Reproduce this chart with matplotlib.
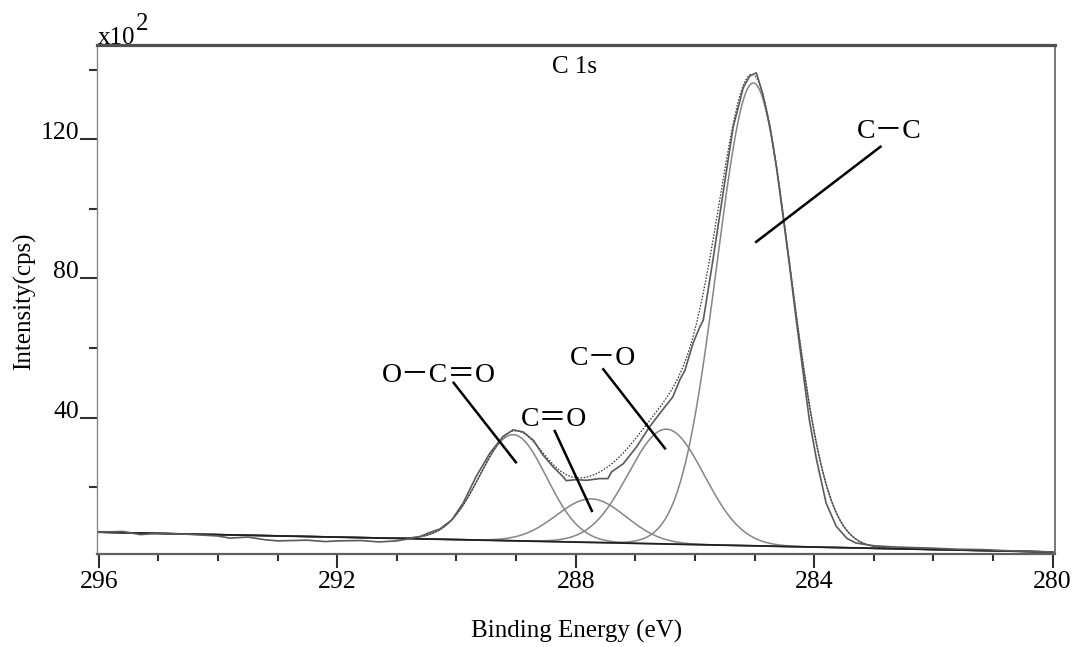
import numpy as np
import matplotlib
matplotlib.use('Agg')
import matplotlib.pyplot as plt
from matplotlib.ticker import MultipleLocator

# ---------------- data ----------------
energy = [296.0, 295.6, 295.3, 295.0, 294.5, 294.0, 293.8, 293.5, 293.2, 293.0,
          292.5, 292.2, 292.0, 291.6, 291.3, 291.0, 290.8, 290.6, 290.45, 290.28,
          290.08, 289.89, 289.67, 289.44, 289.22, 289.05, 288.88, 288.71, 288.55, 288.38,
          288.21, 288.16, 287.99, 287.82, 287.60, 287.46, 287.40, 287.20, 286.98, 286.76,
          286.59, 286.37, 286.25, 286.17, 286.03, 285.92, 285.86, 285.70, 285.53, 285.36,
          285.19, 285.08, 284.97, 284.86, 284.74, 284.63, 284.52, 284.41, 284.30, 284.19,
          284.08, 283.96, 283.80, 283.63, 283.45, 283.30, 283.00, 282.70, 282.40, 282.00,
          281.60, 281.20, 280.80, 280.40, 280.00]
intensity = [7.1, 7.3, 6.4, 6.8, 6.5, 6.0, 5.4, 5.7, 4.9, 4.6,
             4.8, 4.4, 4.6, 4.7, 4.3, 4.6, 5.2, 5.9, 7.0, 8.0,
             10.6, 15.4, 23.1, 29.8, 34.6, 36.5, 35.9, 33.5, 29.3, 25.9,
             23.0, 21.9, 22.2, 22.0, 22.5, 22.5, 24.4, 26.8, 31.6, 37.4,
             41.2, 46.0, 51.0, 53.5, 61.5, 66.0, 68.0, 85.1, 104.3, 123.4,
             134.8, 138.2, 139.1, 132.9, 123.4, 111.9, 97.6, 83.3, 68.0, 53.6,
             39.3, 27.9, 15.5, 8.8, 5.3, 4.0, 3.2, 2.9, 2.7, 2.5,
             2.2, 2.1, 1.8, 1.6, 1.4]

peak_labels = ['C－C', 'C－O', 'C＝O', 'O－C＝O']
peak_centers = [285.02, 286.48, 287.74, 289.05]
peak_heights = [133.0, 33.0, 12.5, 30.5]
peak_fwhm = [1.44, 1.50, 1.38, 1.32]

background_energy = [296.0, 280.0]
background_level = [7.1, 1.4]

x_major_ticks = [296, 292, 288, 284, 280]
y_major_ticks = [40, 80, 120]

# ---------------- figure ----------------
W, H = 1078, 647
fig = plt.figure(figsize=(W / 100, H / 100), dpi=100)
ax = fig.add_axes([97 / W, 1 - 554 / H, (1055 - 97) / W, (554 - 45) / H])

serif = 'Liberation Serif'
ann_family = ['Liberation Serif', 'Noto Sans CJK SC']

x_fine = np.linspace(296, 280, 1601)
bg = np.interp(x_fine, background_energy[::-1], background_level[::-1])

components = []
for c, h, w in zip(peak_centers, peak_heights, peak_fwhm):
    comp = h * np.exp(-4 * np.log(2) * (x_fine - c) ** 2 / w ** 2)
    components.append(comp)
    ax.plot(x_fine, comp + bg, color='#858585', lw=1.1, zorder=2)

envelope = bg + np.sum(components, axis=0)
ax.plot(x_fine, envelope, color='#303030', lw=0.9, ls=(0, (1.2, 1.3)), zorder=3)
ax.plot(energy, intensity, color='#5a5a5a', lw=1.2, zorder=4)
ax.plot(background_energy, background_level, color='#202020', lw=1.3, zorder=3)

ax.set_xlim(296.03, 279.96)
ax.set_ylim(0.83, 147.1)

ax.xaxis.set_major_locator(plt.FixedLocator(x_major_ticks))
ax.xaxis.set_minor_locator(MultipleLocator(1))
ax.yaxis.set_major_locator(plt.FixedLocator(y_major_ticks))
ax.yaxis.set_minor_locator(MultipleLocator(20))
ax.set_xticklabels([str(t) for t in x_major_ticks])
ax.set_yticklabels([str(t) for t in y_major_ticks])

ax.tick_params(axis='x', which='major', direction='out', length=10, width=1.5,
               color='#303030', labelsize=18.5, pad=2)
ax.tick_params(axis='x', which='minor', direction='out', length=5, width=1.5, color='#303030')
ax.tick_params(axis='y', which='major', direction='out', length=12, width=1.5,
               color='#303030', labelsize=18.5, pad=1)
ax.tick_params(axis='y', which='minor', direction='out', length=6, width=1.5, color='#303030')
for lab in ax.get_xticklabels() + ax.get_yticklabels():
    lab.set_family(serif)
for lab in ax.get_yticklabels():
    lab.set_va('baseline')

ax.spines['top'].set_linewidth(2.3)
ax.spines['top'].set_color('#505050')
ax.spines['bottom'].set_linewidth(1.6)
ax.spines['bottom'].set_color('#606060')
ax.spines['left'].set_linewidth(1.0)
ax.spines['left'].set_color('#888888')
ax.spines['right'].set_linewidth(1.2)
ax.spines['right'].set_color('#606060')

# annotation labels and leader lines
label_pos = [(282.74, 120.4), (287.54, 55.1), (288.36, 37.6), (290.29, 50.3)]
leaders = [((282.87, 118.1), (284.99, 90.3)),
           ((287.55, 54.2), (286.49, 30.9)),
           ((288.36, 36.5), (287.72, 12.9)),
           ((290.06, 50.3), (288.99, 26.9))]
for text, (tx, ty), ((x0, y0), (x1, y1)) in zip(peak_labels, label_pos, leaders):
    ax.text(tx, ty, text, ha='center', va='baseline', fontsize=20,
            family=ann_family, color='black', zorder=6)
    ax.plot([x0, x1], [y0, y1], color='black', lw=1.8, zorder=6,
            solid_capstyle='butt')

# figure texts
fig.text(575 / W, 1 - 73.3 / H, 'C 1s', ha='center', va='baseline',
         fontsize=18, family=serif)
fig.text(98 / W, 1 - 44 / H, 'x10', ha='left', va='baseline', fontsize=18, family=serif)
fig.text(136 / W, 1 - 30 / H, '2', ha='left', va='baseline', fontsize=18, family=serif)
fig.text(577 / W, 1 - 638 / H, 'Binding Energy (eV)', ha='center', va='baseline',
         fontsize=18, family=serif)
fig.text(25 / W, 1 - 301 / H, 'Intensity(cps)', ha='center', va='center',
         rotation=90, fontsize=18, family=serif)

fig.savefig('out.png', dpi=100, facecolor='white')
